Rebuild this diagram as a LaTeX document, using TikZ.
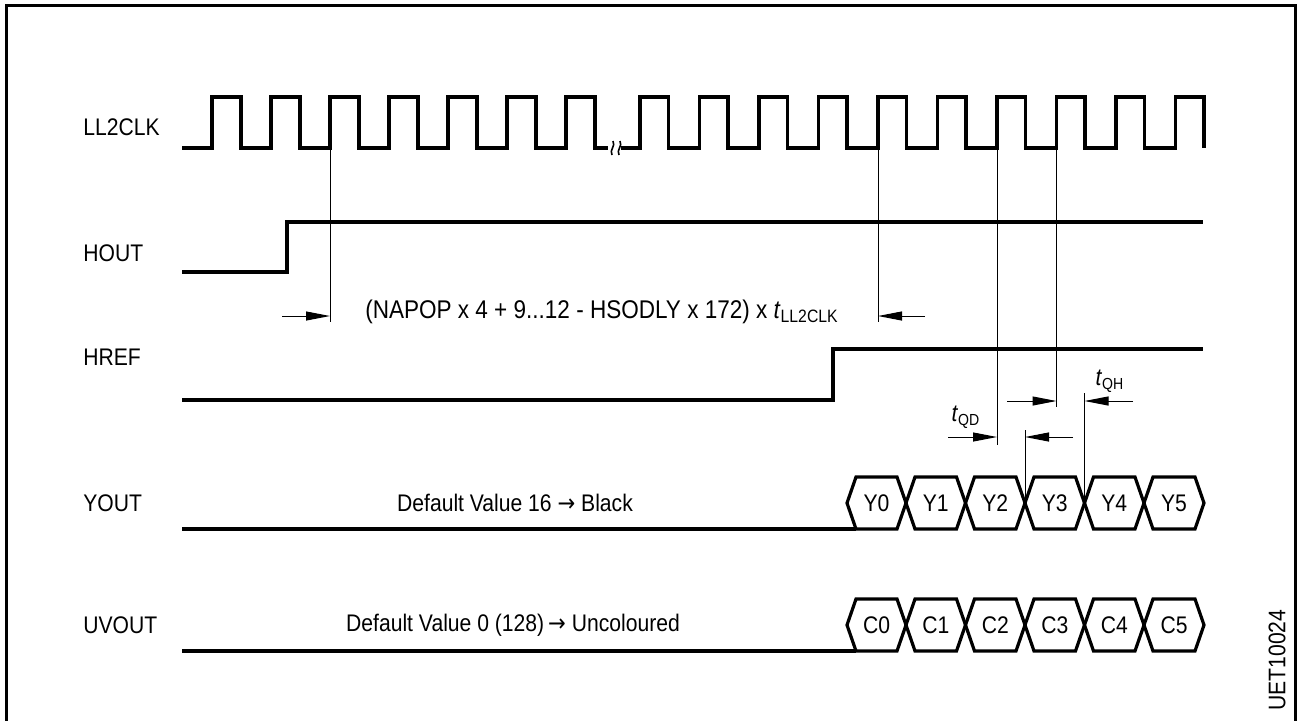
\documentclass[tikz,border=0pt]{standalone}
\usepackage{fontspec}
\setmainfont[FakeStretch=0.88]{Liberation Sans}
\newfontfamily\arrowfont[FakeStretch=0.88]{DejaVu Sans}
\usetikzlibrary{arrows.meta,
positioning,
calc}

\begin{document}
\begin{tikzpicture}[
    x=0.5pt, y=-0.5pt,
    >={Triangle[length=12pt,width=4.5pt]},
    wave/.style={line width=1.6pt, line join=miter},
    guide/.style={line width=0.5pt},
    dim/.style={line width=0.5pt, ->},
    siglabel/.style={anchor=west, inner sep=0pt, font=\fontsize{12}{14}\selectfont},
    txt/.style={inner sep=0pt, font=\fontsize{12}{14}\selectfont}
]

\useasboundingbox (0,0) rectangle (1297,720);
\draw[line width=1.5pt] (6,730) -- (6,5) -- (1295,5) -- (1295,730);

% signal names
\node[siglabel] (nclk)  at (83,127) {LL2CLK};
\node[siglabel] (nhout) at (83,253) {HOUT};
\node[siglabel] (nhref) at (83,357) {HREF};
\node[siglabel] (nyout) at (83,503) {YOUT};
\node[siglabel] (nuv)   at (83,625) {UVOUT};

% clock
\draw[wave] (182,148)
    foreach \k in {0,...,6} { -- ({212+59*\k},148) -- ({212+59*\k},97) -- ({241+59*\k},97) -- ({241+59*\k},148) }
    -- (608,148);
\draw[line width=0.8pt] (613,141) .. controls (616,146) and (609,150) .. (612,155);
\draw[line width=0.8pt] (620,141) .. controls (623,146) and (616,150) .. (619,155);
\draw[wave] (621,148)
    foreach \k in {0,...,9} { -- ({640+59.5*\k},148) -- ({640+59.5*\k},97) -- ({668.5+59.5*\k},97) -- ({668.5+59.5*\k},148) };

% hout, href
\draw[wave] (182,272) -- (287,272) -- (287,222) -- (1203,222);
\draw[wave] (182,400) -- (833,400) -- (833,349) -- (1203,349);

% edges used for timing
\coordinate (e1) at (330,148);
\coordinate (e2) at (878,148);
\coordinate (e3) at (997,148);
\coordinate (e4) at (1056.5,148);
\coordinate (x3) at (1025,503);
\coordinate (x4) at (1084.5,503);

\draw[guide] (e1) -- ++(0,174);
\draw[guide] (e2) -- ++(0,174);
\draw[guide] (e3) -- ++(0,297);
\draw[guide] (e4) -- ++(0,259);
\draw[guide] (x3) -- ++(0,-73);
\draw[guide] (x4) -- ++(0,-110);

\coordinate (a1) at (282,316);
\coordinate (a2) at (925,316);
\draw[dim] (a1) -- (a1 -| e1);
\draw[dim] (a2) -- (a2 -| e2);
\node[txt, font=\fontsize{12.8}{14}\selectfont] (delay) at (602,312) {(NAPOP x 4 + 9...12 - HSODLY x 172) x \textit{t}\textsubscript{LL2CLK}};

\coordinate (a3) at (948,437);
\coordinate (a4) at (1007,401);
\coordinate (a5) at (1073,437);
\coordinate (a6) at (1133,401);
\draw[dim] (a3) -- (a3 -| e3);
\draw[dim] (a4) -- (a4 -| e4);
\draw[dim] (a5) -- (a5 -| x3);
\draw[dim] (a6) -- (a6 -| x4);
\node[txt] (tqd) at (966,417) {\textit{t}\textsubscript{QD}};
\node[txt] (tqh) at (1110,381) {\textit{t}\textsubscript{QH}};

% data buses
\draw[wave] (182,529) -- (856,529);
\draw[wave] (182,651) -- (856,651);
\node[txt] (ydef) at (515,503) {Default Value 16 {\arrowfont →} Black};
\node[txt] (cdef) at (513,625) {Default Value 0 (128)\,{\arrowfont →} Uncoloured};

\foreach \a/\b/\i in {847/906/0, 906/965.5/1, 965.5/1025/2, 1025/1084.5/3, 1084.5/1144/4, 1144/1204/5} {
    \draw[wave] (\a,503) -- ({\a+9},477) -- ({\b-9},477) -- (\b,503) -- ({\b-9},529) -- ({\a+9},529) -- cycle;
    \node[txt] (y\i) at ({(\a+\b)/2},503) {Y\i};
    \draw[wave] (\a,625) -- ({\a+9},599) -- ({\b-9},599) -- (\b,625) -- ({\b-9},651) -- ({\a+9},651) -- cycle;
    \node[txt] (c\i) at ({(\a+\b)/2},625) {C\i};
}

\node[txt, rotate=90] (code) at (1277,660) {UET10024};

\end{tikzpicture}
\end{document}
